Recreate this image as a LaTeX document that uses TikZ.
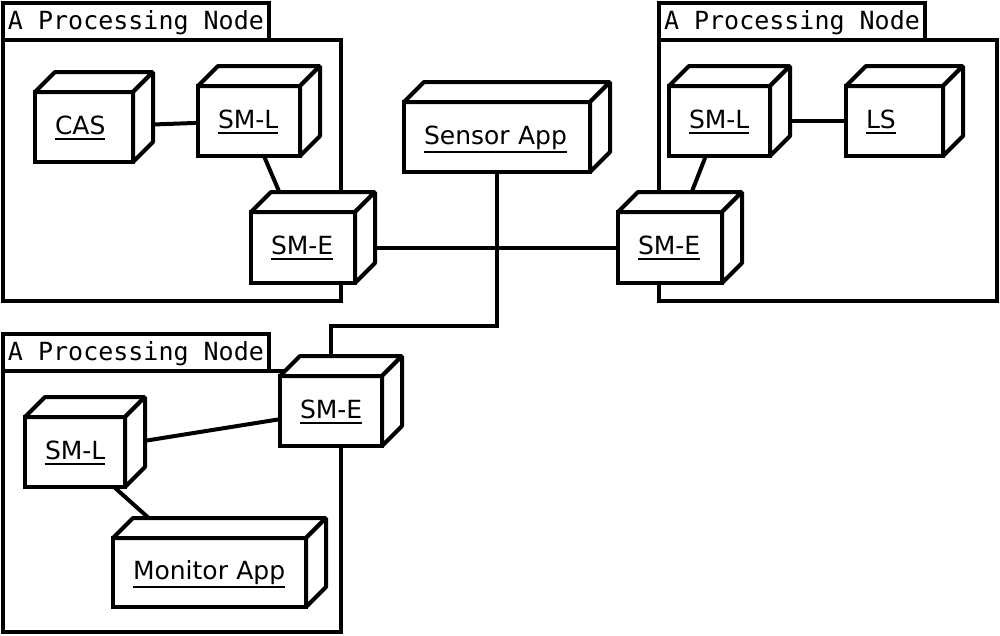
\documentclass[tikz,border=0pt]{standalone}
\usepackage{fontspec}
\newfontfamily\labfont{DejaVu Sans}
\newfontfamily\tabfont{DejaVu Sans Mono}[WordSpace={1,0,0}]
\usetikzlibrary{backgrounds}
\newcommand\ulab[1]{\leavevmode\setbox0=\hbox{#1}\dimen0=\dp0 \advance\dimen0 by 1.5pt \ifdim\dimen0<3.5pt \dimen0=3.5pt\fi\rlap{\copy0}\lower\dimen0\hbox{\vrule width\wd0 height 0pt depth 2pt}}
\newcommand\tabtext[1]{\makebox[256pt][l]{#1}}
\tikzset{
  cube/.style={draw, line width=4pt, fill=white, inner xsep=20pt, inner ysep=0pt,
    outer sep=0pt, align=left, text height=19pt, text depth=5pt,
    font=\labfont\fontsize{25}{30}\selectfont},
  cubeface/.style={draw, line width=4pt, fill=white, line join=bevel},
  pkgbody/.style={draw, line width=4pt, anchor=north west, inner sep=0pt, outer sep=0pt,
    minimum width=338pt, minimum height=261pt},
  pkgtab/.style={draw, line width=4pt, anchor=north west, inner xsep=5pt, inner ysep=0pt,
    outer sep=0pt, minimum width=266pt, minimum height=37pt,
    text height=20pt, text depth=5pt, font=\tabfont\fontsize{25}{30}\selectfont},
  link/.style={draw, line width=4pt}
}
\newcommand\cubeat[6]{%
  \pgfmathsetmacro\cubetw{#4-#2-40}%
  \pgfmathsetmacro\cubeh{#5-#3}%
  \node[cube, anchor=north west, text width=\cubetw pt, minimum height=\cubeh pt] (#1) at (#2,#3) {\ulab{#6}};
  \draw[cubeface] (#1.north west) -- ++(20,-20) -- ([shift={(20,-20)}]#1.north east) -- (#1.north east) -- cycle;
  \draw[cubeface] (#1.north east) -- ++(20,-20) -- ([shift={(20,-20)}]#1.south east) -- (#1.south east) -- cycle;
}
\begin{document}
\begin{tikzpicture}[x=1pt, y=-1pt]
\useasboundingbox (0,0) rectangle (1000,635);
% boxes
\cubeat{cas}{35}{92}{133}{162}{CAS}
\cubeat{smla}{198}{86}{300}{156}{SM-L}
\cubeat{smea}{251}{212}{355}{283}{SM-E}
\cubeat{sensor}{404}{102}{590}{172}{Sensor App}
\cubeat{smlb}{669}{86}{770}{156}{SM-L}
\cubeat{ls}{846}{86}{943}{156}{LS}
\cubeat{smeb}{618}{212}{722}{283}{SM-E}
\cubeat{smec}{280}{376}{382}{446}{SM-E}
\cubeat{smlc}{25}{417}{125}{487}{SM-L}
\cubeat{monitor}{113}{538}{306}{607}{Monitor App}
\begin{scope}[on background layer]
  \fill[white] (0,0) rectangle (1000,635);
  % processing nodes
  \node[pkgbody] (pkga) at (3,40) {};
  \node[pkgtab] (taba) at (3,3) {\tabtext{A Processing Node}};
  \node[pkgbody] (pkgb) at (659,40) {};
  \node[pkgtab] (tabb) at (659,3) {\tabtext{A Processing Node}};
  \node[pkgbody] (pkgc) at (3,371) {};
  \node[pkgtab] (tabc) at (3,334) {\tabtext{A Processing Node}};
  % connectors
  \coordinate (bus) at (0,326);
  \draw[link] (cas.center) -- (smla.center);
  \draw[link] (smla.center) -- (smea.center);
  \draw[link] (smea.center) -- (smeb.center);
  \draw[link] (smlb.center) -- (ls.center);
  \draw[link] (smlb.center) -- (smeb.center);
  \draw[link] (smlc.center) -- (smec.center);
  \draw[link] (smlc.center) -- (monitor.center);
  \draw[link] (sensor.center) -- (sensor.center |- bus) -| (smec.center);
\end{scope}
\end{tikzpicture}
\end{document}
